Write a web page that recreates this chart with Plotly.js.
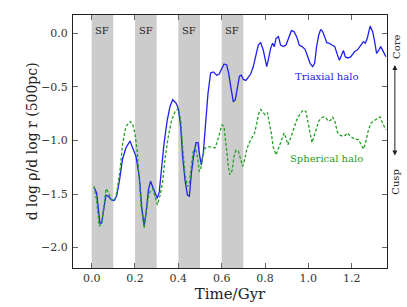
<!DOCTYPE html>
<html><head><meta charset="utf-8">
<script src="https://cdn.plot.ly/plotly-3.0.1.min.js"></script>
<style>html,body{margin:0;padding:0;background:#fff}#chart{width:407px;height:307px}</style>
</head><body><div id="chart"></div>
<script>
const triT = [0.011,0.023,0.038,0.046,0.066,0.077,0.092,0.103,0.115,0.128,0.143,0.158,0.177,0.189,0.205,0.22,0.231,0.242,0.251,0.262,0.272,0.285,0.297,0.303,0.312,0.322,0.334,0.349,0.362,0.374,0.389,0.4,0.411,0.42,0.431,0.442,0.451,0.46,0.472,0.482,0.491,0.497,0.506,0.515,0.525,0.537,0.549,0.562,0.577,0.589,0.6,0.611,0.623,0.632,0.642,0.654,0.663,0.672,0.682,0.691,0.7,0.712,0.723,0.734,0.746,0.758,0.769,0.78,0.792,0.8,0.808,0.815,0.826,0.835,0.843,0.851,0.862,0.872,0.885,0.897,0.909,0.922,0.934,0.946,0.958,0.971,0.985,0.995,1.008,1.02,1.029,1.038,1.048,1.057,1.066,1.075,1.085,1.097,1.109,1.122,1.134,1.143,1.152,1.162,1.171,1.183,1.195,1.205,1.214,1.226,1.238,1.254,1.263,1.272,1.285,1.297,1.306,1.315,1.325,1.334,1.346,1.358];
const triV = [-1.437,-1.49,-1.77,-1.77,-1.51,-1.52,-1.555,-1.56,-1.52,-1.38,-1.17,-1.07,-1.005,-1.06,-1.15,-1.34,-1.62,-1.79,-1.68,-1.46,-1.38,-1.45,-1.52,-1.54,-1.48,-1.24,-1.03,-0.81,-0.68,-0.62,-0.65,-0.70,-0.87,-1.15,-1.37,-1.51,-1.52,-1.31,-1.12,-1.02,-1.02,-1.12,-1.23,-1.12,-0.87,-0.56,-0.37,-0.36,-0.39,-0.38,-0.33,-0.286,-0.295,-0.37,-0.50,-0.64,-0.62,-0.50,-0.40,-0.39,-0.43,-0.44,-0.41,-0.38,-0.31,-0.20,-0.11,-0.087,-0.156,-0.233,-0.31,-0.25,-0.14,-0.093,-0.124,-0.047,-0.031,-0.11,-0.124,-0.109,-0.047,0.025,0.016,-0.031,-0.109,-0.124,-0.149,-0.20,-0.28,-0.31,-0.28,-0.124,-0.016,0.037,0.016,-0.031,-0.087,-0.093,-0.109,-0.124,-0.20,-0.25,-0.21,-0.16,-0.22,-0.23,-0.22,-0.19,-0.17,-0.156,-0.124,-0.078,-0.093,-0.047,0.068,0.016,-0.078,-0.187,-0.156,-0.124,-0.171,-0.218];
const sphT = [0.011,0.023,0.035,0.046,0.057,0.066,0.077,0.092,0.108,0.118,0.131,0.143,0.158,0.177,0.189,0.2,0.211,0.22,0.229,0.242,0.251,0.262,0.269,0.282,0.292,0.303,0.315,0.328,0.338,0.354,0.369,0.385,0.4,0.411,0.42,0.431,0.442,0.451,0.46,0.469,0.478,0.488,0.497,0.503,0.512,0.523,0.538,0.554,0.569,0.58,0.592,0.602,0.611,0.62,0.631,0.638,0.648,0.657,0.666,0.677,0.688,0.697,0.706,0.715,0.725,0.734,0.743,0.752,0.762,0.771,0.78,0.789,0.8,0.811,0.82,0.829,0.838,0.851,0.863,0.875,0.888,0.897,0.906,0.918,0.931,0.946,0.962,0.977,0.989,0.998,1.008,1.017,1.026,1.035,1.048,1.06,1.072,1.082,1.091,1.103,1.112,1.122,1.134,1.146,1.158,1.171,1.183,1.192,1.205,1.217,1.229,1.242,1.254,1.263,1.275,1.288,1.3,1.315,1.331,1.343,1.358];
const sphV = [-1.425,-1.555,-1.80,-1.77,-1.62,-1.45,-1.48,-1.555,-1.555,-1.46,-1.275,-1.03,-0.87,-0.824,-0.846,-0.933,-1.12,-1.37,-1.62,-1.82,-1.68,-1.52,-1.48,-1.45,-1.52,-1.60,-1.52,-1.38,-1.18,-0.96,-0.81,-0.73,-0.70,-0.81,-1.06,-1.32,-1.43,-1.40,-1.24,-1.10,-1.06,-1.15,-1.29,-1.27,-1.15,-1.07,-1.06,-1.06,-1.07,-1.01,-0.92,-0.855,-0.87,-1.06,-1.24,-1.32,-1.28,-1.15,-1.09,-1.10,-1.17,-1.24,-1.18,-1.09,-1.03,-1.00,-0.96,-0.93,-0.84,-0.75,-0.71,-0.73,-0.76,-0.74,-0.82,-0.93,-1.06,-1.135,-1.07,-1.00,-0.93,-0.98,-1.04,-0.98,-0.90,-0.81,-0.75,-0.715,-0.73,-0.81,-0.93,-1.02,-0.96,-0.89,-0.82,-0.79,-0.78,-0.79,-0.82,-0.81,-0.78,-0.82,-0.92,-0.95,-0.96,-0.95,-0.93,-0.96,-0.98,-0.99,-0.99,-1.03,-1.08,-1.03,-0.92,-0.84,-0.82,-0.80,-0.78,-0.84,-0.90];
const sfStart = [0.0, 0.2, 0.4, 0.6];
const sfEnd = [0.1, 0.3, 0.5, 0.7];
const sfLabel = ['SF','SF','SF','SF'];
const xTicks = [0.0,0.2,0.4,0.6,0.8,1.0,1.2];
const xTickText = ['0.0','0.2','0.4','0.6','0.8','1.0','1.2'];
const yTicks = [0.0,-0.5,-1.0,-1.5,-2.0];
const yTickText = ['0.0','\u22120.5','\u22121.0','\u22121.5','\u22122.0'];
const yTitle = 'd log \u03c1/d log r (500pc)';

const F = '"DejaVu Serif", serif';
const shapes = sfStart.map((s,i)=>({type:'rect',xref:'x',yref:'paper',x0:s,x1:sfEnd[i],y0:0,y1:1,fillcolor:'#cccccc',line:{width:0},layer:'below'}));
const annotations = sfStart.map((s,i)=>({x:(s+sfEnd[i])/2,y:0.025,xref:'x',yref:'y',text:sfLabel[i],showarrow:false,font:{family:F,size:10,color:'#222'}}));
annotations.push({x:1.086,y:-0.40,xref:'x',yref:'y',text:'Triaxial halo',showarrow:false,font:{family:F,size:10,color:'#2020ee'}});
annotations.push({x:1.086,y:-1.165,xref:'x',yref:'y',text:'Spherical halo',showarrow:false,font:{family:F,size:10,color:'#22a022'}});
annotations.push({x:1.028,y:0.873,xref:'paper',yref:'paper',xanchor:'center',yanchor:'middle',text:'Core',textangle:-90,showarrow:false,font:{family:F,size:10,color:'#222'}});
annotations.push({x:1.028,y:0.34,xref:'paper',yref:'paper',xanchor:'center',yanchor:'middle',text:'Cusp',textangle:-90,showarrow:false,font:{family:F,size:10,color:'#222'}});
annotations.push({x:1.025,y:0.802,ax:1.025,ay:0.439,xref:'paper',yref:'paper',axref:'paper',ayref:'paper',text:'',showarrow:true,arrowhead:2,arrowside:'end+start',arrowsize:1,arrowwidth:1,arrowcolor:'#222'});
annotations.push({x:-0.131,y:0.5,xref:'paper',yref:'paper',xanchor:'center',yanchor:'middle',text:yTitle,textangle:-90,showarrow:false,font:{family:F,size:14,color:'#222'}});

const traces = [
 {x:triT,y:triV,mode:'lines',line:{color:'#2020f0',width:1.3},name:'Triaxial halo'},
 {x:sphT,y:sphV,mode:'lines',line:{color:'#22a022',width:1.3,dash:'3px,2px'},name:'Spherical halo'}
];
const axisCommon = {showgrid:false,zeroline:false,showline:true,linecolor:'#222',linewidth:1,mirror:'ticks',ticks:'inside',ticklen:5,tickcolor:'#666',tickfont:{family:F,size:11,color:'#333'}};
const layout = {
 width:407,height:307,margin:{l:73,r:20,t:15,b:39},
 paper_bgcolor:'#fff',plot_bgcolor:'#fff',showlegend:false,
 xaxis:Object.assign({},axisCommon,{range:[-0.086,1.363],tickvals:xTicks,ticktext:xTickText,title:{text:'Time/Gyr',font:{family:F,size:15,color:'#222'},standoff:0}}),
 yaxis:Object.assign({},axisCommon,{range:[-2.19,0.171],tickvals:yTicks,ticktext:yTickText,ticklabelstandoff:2}),
 shapes:shapes,annotations:annotations
};
Plotly.newPlot('chart',traces,layout,{staticPlot:true,displayModeBar:false});
</script></body></html>
